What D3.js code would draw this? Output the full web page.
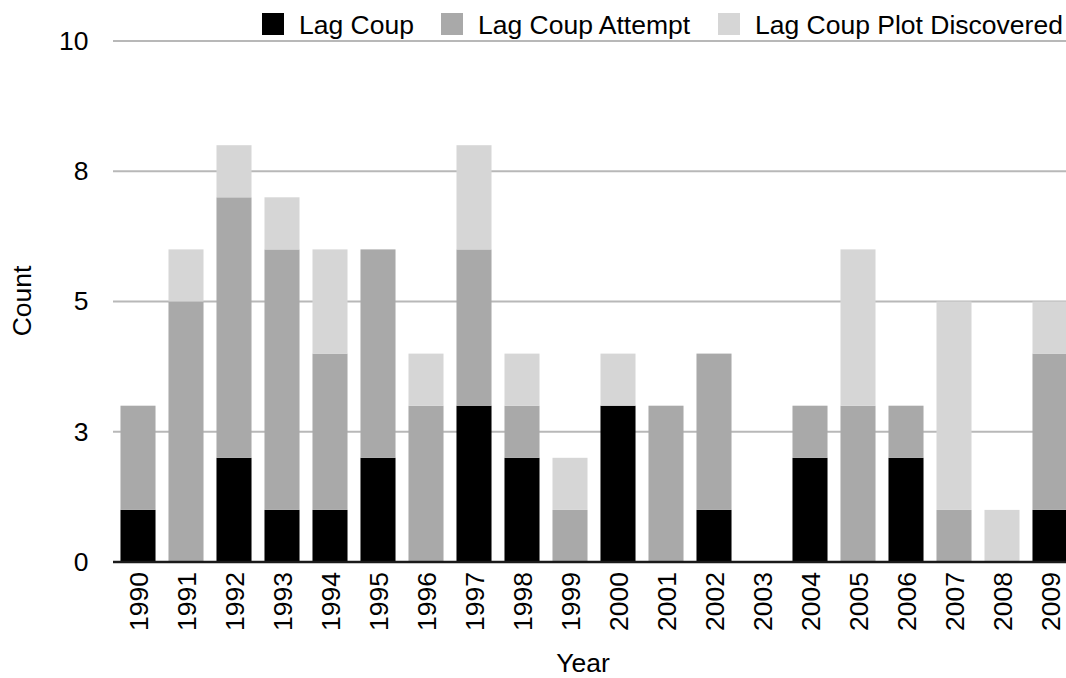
<!DOCTYPE html>
<html>
<head>
<meta charset="utf-8">
<script src="https://cdn.jsdelivr.net/npm/d3@7"></script>
<style>
  html, body { margin: 0; padding: 0; background: #fff; }
  svg { display: block; font-family: "Liberation Sans", Arial, Helvetica, sans-serif; }
</style>
</head>
<body>
<svg id="chart" width="1066" height="678"></svg>
<script>
// Coup events per year, stacked by type
const years = ["1990","1991","1992","1993","1994","1995","1996","1997","1998","1999",
               "2000","2001","2002","2003","2004","2005","2006","2007","2008","2009"];
const lagCoup          = [1,0,2,1,1,2,0,3,2,0,3,0,1,0,2,0,2,0,0,1];
const lagCoupAttempt   = [2,5,5,5,3,4,3,3,1,1,0,3,3,0,1,3,1,1,0,3];
const lagCoupPlot      = [0,1,1,1,2,0,1,2,1,1,1,0,0,0,0,3,0,4,1,1];

const seriesNames = ["Lag Coup", "Lag Coup Attempt", "Lag Coup Plot Discovered"];
const seriesColors = ["#000000", "#a9a9a9", "#d6d6d6"];

const yTickValues = [0, 2.5, 5, 7.5, 10];
const yTickLabels = ["0", "3", "5", "8", "10"];

const FONT = 26.5;

const rows = years.map((y, i) => ({
  year: y,
  [seriesNames[0]]: lagCoup[i],
  [seriesNames[1]]: lagCoupAttempt[i],
  [seriesNames[2]]: lagCoupPlot[i]
}));

const svg = d3.select("#chart");
const W = 1066;
const plotLeft = 113, plotRight = W;

const x = d3.scaleBand()
  .domain(years)
  .range([114, 1074])
  .paddingInner(0.27)
  .paddingOuter(0.135);

const y = d3.scaleLinear().domain([0, 10]).range([562, 41]);
const color = d3.scaleOrdinal().domain(seriesNames).range(seriesColors);

// horizontal gridlines
svg.append("g")
  .selectAll("line")
  .data(yTickValues.filter(v => v > 0))
  .join("line")
  .attr("x1", plotLeft).attr("x2", plotRight)
  .attr("y1", d => y(d)).attr("y2", d => y(d))
  .attr("stroke", "#b8b8b8")
  .attr("stroke-width", 2);

// y tick labels
const yAxis = d3.axisLeft(y)
  .tickValues(yTickValues)
  .tickFormat((d, i) => yTickLabels[i])
  .tickSize(0)
  .tickPadding(0);
const gy = svg.append("g").attr("transform", "translate(88.5,0)").call(yAxis);
gy.select(".domain").remove();
gy.selectAll("text")
  .attr("font-size", FONT)
  .attr("fill", "#000")
  .attr("font-family", "'Liberation Sans', Arial, sans-serif");

// stacked bars
const stack = d3.stack().keys(seriesNames);
const layers = stack(rows);

svg.append("g")
  .selectAll("g")
  .data(layers)
  .join("g")
  .attr("fill", d => color(d.key))
  .selectAll("rect")
  .data(d => d)
  .join("rect")
  .attr("x", d => x(d.data.year))
  .attr("width", x.bandwidth())
  .attr("y", d => y(d[1]))
  .attr("height", d => y(d[0]) - y(d[1]));

// baseline
svg.append("line")
  .attr("x1", plotLeft).attr("x2", plotRight)
  .attr("y1", y(0)).attr("y2", y(0))
  .attr("stroke", "#1a1a1a")
  .attr("stroke-width", 2.5);

// x tick labels, rotated
const xAxis = d3.axisBottom(x).tickSize(0).tickPadding(0);
const gx = svg.append("g").attr("transform", "translate(0,572)").call(xAxis);
gx.select(".domain").remove();
gx.selectAll("text")
  .attr("font-size", FONT)
  .attr("fill", "#000")
  .attr("font-family", "'Liberation Sans', Arial, sans-serif")
  .attr("text-anchor", "end")
  .attr("transform", "rotate(-90)")
  .attr("x", 0)
  .attr("y", 0)
  .attr("dy", "0.36em");

// axis titles
svg.append("text")
  .attr("x", 583).attr("y", 672)
  .attr("text-anchor", "middle")
  .attr("font-size", FONT)
  .text("Year");

svg.append("text")
  .attr("transform", "translate(31,301) rotate(-90)")
  .attr("text-anchor", "middle")
  .attr("font-size", FONT)
  .text("Count");

// legend
const legendX = [262, 441, 718];
const legend = svg.append("g")
  .selectAll("g")
  .data(seriesNames)
  .join("g")
  .attr("transform", (d, i) => `translate(${legendX[i]},13)`);
legend.append("rect")
  .attr("width", 22).attr("height", 22)
  .attr("fill", d => color(d));
legend.append("text")
  .attr("x", 37).attr("y", 21)
  .attr("font-size", FONT)
  .text(d => d);
</script>
</body>
</html>
